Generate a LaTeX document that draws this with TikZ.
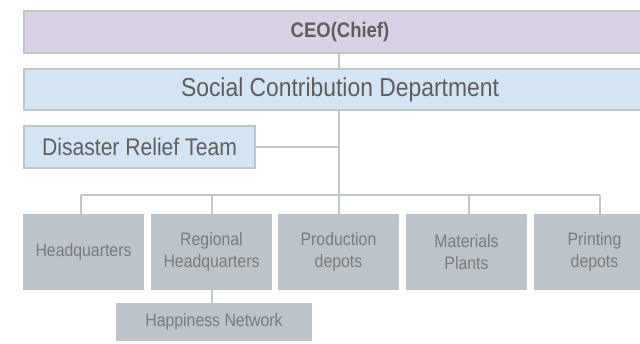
\documentclass[tikz,border=0pt]{standalone}
\usepackage{fontspec}
\setmainfont{Liberation Sans}[FakeStretch=0.88]
\definecolor{ceofill}{HTML}{DBD1E6}
\definecolor{socfill}{HTML}{D3E4F5}
\definecolor{bordercol}{HTML}{BEC6CA}
\definecolor{unitfill}{HTML}{BCC4CA}
\definecolor{linecol}{HTML}{C0C7CB}
\definecolor{toptext}{HTML}{5E5E5E}
\definecolor{unittext}{HTML}{767C80}
\tikzset{
  topbox/.style={draw=bordercol, line width=2pt, inner sep=0pt, text=toptext},
  unitbox/.style={fill=unitfill, draw=none, inner sep=0pt, text=unittext, align=center,
     minimum width=121pt, minimum height=76pt,
     font=\fontsize{18}{22}\selectfont},
  conn/.style={draw=linecol, line width=2pt}
}
\begin{document}
\begin{tikzpicture}[x=1pt,y=-1pt]
\clip (0,0) rectangle (640,343);
\fill[white] (0,0) rectangle (640,343);
% top boxes
\node[topbox, fill=ceofill, minimum width=632pt, minimum height=42pt,
  font=\fontsize{21}{24}\selectfont\bfseries] (ceo) at (340,32) {CEO(Chief)};
\node[topbox, fill=socfill, minimum width=632pt, minimum height=41pt,
  font=\fontsize{26}{28}\selectfont] (soc) at (340,89.5) {Social Contribution Department};
\node[topbox, fill=socfill, minimum width=231pt, minimum height=42pt,
  font=\fontsize{24}{28}\selectfont] (drt) at (139.5,147) {Disaster Relief Team};
% units
\node[unitbox] (hq)  at (83.5,252)  {Headquarters};
\node[unitbox] (rhq) at (211.5,252) {Regional\\Headquarters};
\node[unitbox] (pd)  at (338.5,252) {Production\\depots};
\node[unitbox] (mp)  at (466.5,252) {Materials\\Plants};
\node[unitbox] (prd) at (594.5,252) {Printing\\depots};
\node[unitbox, minimum width=196pt, minimum height=38pt] (hn) at (214,322) {Happiness Network};
% connector coordinates
\coordinate (spine) at (339,195);
\coordinate (b1) at (81,195);
\coordinate (b2) at (212,195);
\coordinate (b3) at (339,195);
\coordinate (b4) at (469,195);
\coordinate (b5) at (600,195);
\coordinate (rs) at (212,290);
% connectors
\draw[conn] (ceo.south -| spine) -- (soc.north -| spine);
\draw[conn] (soc.south -| spine) -- (spine);
\draw[conn] (drt.east) -- (drt.east -| spine);
\draw[conn] (b1) -- (b5);
\draw[conn] (b1) -- (b1 |- hq.north);
\draw[conn] (b2) -- (b2 |- rhq.north);
\draw[conn] (b3) -- (b3 |- pd.north);
\draw[conn] (b4) -- (b4 |- mp.north);
\draw[conn] (b5) -- (b5 |- prd.north);
\draw[conn] (rs) -- (rs |- hn.north);
\end{tikzpicture}
\end{document}
